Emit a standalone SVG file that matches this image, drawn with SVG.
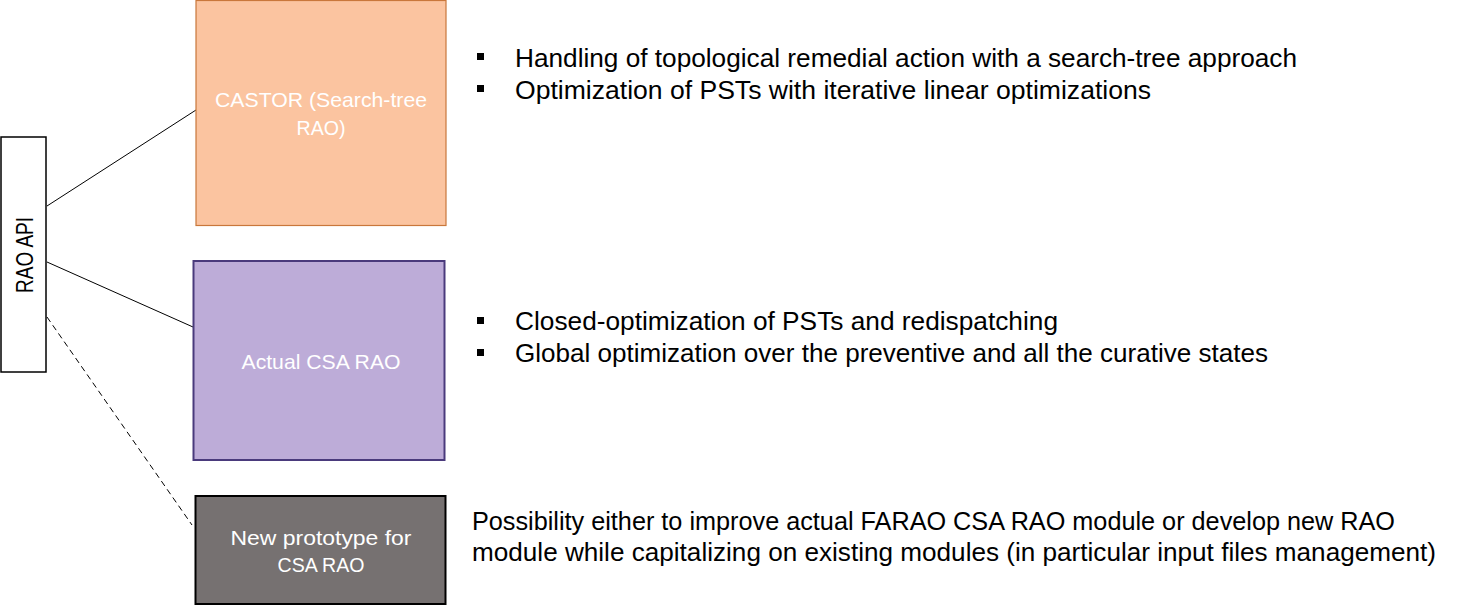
<svg xmlns="http://www.w3.org/2000/svg" width="1463" height="606" viewBox="0 0 1463 606">
<style>
.lbl{font-family:"Liberation Sans",Arial,sans-serif;font-size:21px;fill:#ffffff;text-anchor:middle}
.txt{font-family:"Liberation Sans",Arial,sans-serif;font-size:26px;fill:#000000}
.bul{fill:#000000}
.con{stroke:#000000;stroke-width:1;fill:none}
</style>
<rect width="1463" height="606" fill="#ffffff"/>
<g id="connectors">
<line class="con" x1="47" y1="206" x2="196" y2="110"/>
<line class="con" x1="47" y1="262" x2="193" y2="327"/>
<line class="con" x1="47" y1="317" x2="192" y2="525" stroke-dasharray="6,4"/>
</g>
<g id="rao-api">
<rect x="1" y="137" width="45" height="235" fill="#ffffff" stroke="#000000" stroke-width="1.5"/>
<text x="0" y="0" transform="translate(33,293) rotate(-90)" font-family="Liberation Sans,Arial,sans-serif" font-size="24" fill="#000000" textLength="76" lengthAdjust="spacingAndGlyphs">RAO API</text>
</g>
<g id="castor">
<rect x="196" y="0.5" width="250" height="225" fill="#FBC4A0" stroke="#C9773B" stroke-width="1.2"/>
<text class="lbl" x="321" y="107" textLength="212" lengthAdjust="spacingAndGlyphs">CASTOR (Search-tree</text>
<text class="lbl" x="321" y="135" textLength="49" lengthAdjust="spacingAndGlyphs">RAO)</text>
</g>
<g id="actual-csa-rao">
<rect x="193.5" y="261" width="251" height="199" fill="#BDACD8" stroke="#4A3A7C" stroke-width="2"/>
<text class="lbl" x="321" y="369" textLength="159" lengthAdjust="spacingAndGlyphs">Actual CSA RAO</text>
</g>
<g id="new-prototype">
<rect x="195.5" y="496" width="250" height="108" fill="#767171" stroke="#000000" stroke-width="2"/>
<text class="lbl" x="321" y="545" textLength="181" lengthAdjust="spacingAndGlyphs">New prototype for</text>
<text class="lbl" x="321" y="572" textLength="87" lengthAdjust="spacingAndGlyphs">CSA RAO</text>
</g>
<g id="castor-notes">
<rect class="bul" x="477" y="53" width="7" height="7"/>
<text class="txt" x="515" y="67" textLength="782" lengthAdjust="spacingAndGlyphs">Handling of topological remedial action with a search-tree approach</text>
<rect class="bul" x="477" y="85" width="7" height="7"/>
<text class="txt" x="515" y="99" textLength="636" lengthAdjust="spacingAndGlyphs">Optimization of PSTs with iterative linear optimizations</text>
</g>
<g id="actual-notes">
<rect class="bul" x="477" y="317" width="7" height="7"/>
<text class="txt" x="515" y="330" textLength="543" lengthAdjust="spacingAndGlyphs">Closed-optimization of PSTs and redispatching</text>
<rect class="bul" x="477" y="349" width="7" height="7"/>
<text class="txt" x="515" y="362" textLength="753" lengthAdjust="spacingAndGlyphs">Global optimization over the preventive and all the curative states</text>
</g>
<g id="prototype-notes">
<text class="txt" x="472" y="530" textLength="923" lengthAdjust="spacingAndGlyphs">Possibility either to improve actual FARAO CSA RAO module or develop new RAO</text>
<text class="txt" x="472" y="561" textLength="964" lengthAdjust="spacingAndGlyphs">module while capitalizing on existing modules (in particular input files management)</text>
</g>
</svg>
